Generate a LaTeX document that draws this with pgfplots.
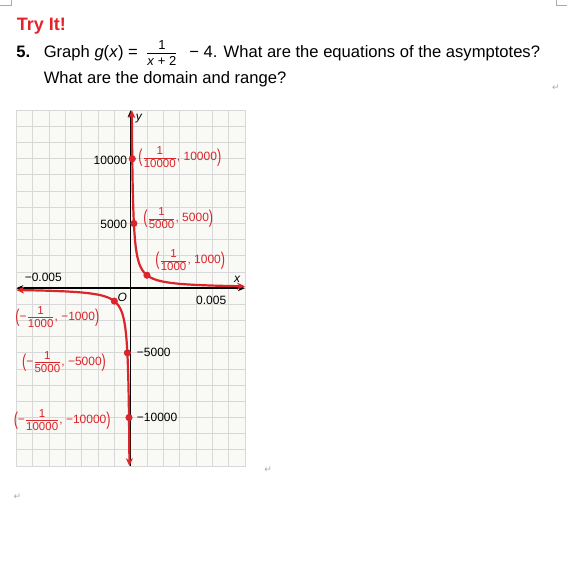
\documentclass[border=0pt]{standalone}
\usepackage{fontspec}
\setmainfont{Liberation Sans}
\newfontfamily\symfont{DejaVu Sans}
\usepackage{graphicx}
\usepackage{pgfplots}
\pgfplotsset{compat=1.18}
\usetikzlibrary{arrows.meta}
\definecolor{tryred}{RGB}{226,35,42}
\definecolor{cred}{RGB}{218,37,42}
\definecolor{gridc}{RGB}{216,216,216}
\definecolor{bgc}{RGB}{249,249,246}
\definecolor{markc}{RGB}{170,170,170}
\newcommand{\fr}[1]{\frac{\mbox{\fontsize{11.5}{11.5}\selectfont\rule[-2.5pt]{0pt}{0pt}1}}{\mbox{\fontsize{11.5}{11.5}\selectfont\rule{0pt}{9.2pt}#1}}}
\newcommand{\pl}{\vcenter{\hbox{\scalebox{1.05}[1.55]{(}}}}
\newcommand{\pr}{\vcenter{\hbox{\scalebox{1.05}[1.55]{)}}}}
\newcommand{\lab}[2]{$\pl#1\mbox{, #2}\pr$}
\newcommand{\mn}{\mbox{−}}
\begin{document}
\begin{tikzpicture}
\path[fill=white] (0,0) rectangle (567pt,-584pt);
\draw[markc, line width=0.6pt] (0,-5pt) -- (11pt,-5pt) -- (11pt,0);
\draw[markc, line width=0.6pt] (567pt,-5pt) -- (556pt,-5pt) -- (556pt,0);

\node[anchor=base west, inner sep=0, text=tryred, font=\fontsize{18}{20}\selectfont\bfseries] at (16.5pt,-30.7pt) {Try It!};
\node[anchor=base west, inner sep=0, font=\fontsize{16.6}{20}\selectfont\bfseries] at (16pt,-57.5pt) {5.};
\node[anchor=base west, inner sep=0, font=\fontsize{16.6}{20}\selectfont] at (43.3pt,-57.5pt) {Graph \textit{g}(\textit{x}) =};
\node[anchor=base, inner sep=0, font=\fontsize{16.6}{20}\selectfont] at (161.7pt,-57.5pt) {$\frac{\mbox{\fontsize{13}{13}\selectfont\rule[-3.5pt]{0pt}{0pt}1}}{\mbox{\fontsize{13}{13}\selectfont\rule{0pt}{11.2pt}\textit{x} + 2}}$};
\node[anchor=base west, inner sep=0, font=\fontsize{16.6}{20}\selectfont] at (189pt,-57.5pt) {− 4. What are the equations of the asymptotes?};
\node[anchor=base west, inner sep=0, font=\fontsize{16.6}{20}\selectfont] at (43.3pt,-83.3pt) {What are the domain and range?};

\begin{axis}[at={(16pt,-466pt)}, anchor=south west, scale only axis,
  width=228.8pt, height=356pt,
  xmin=-0.007, xmax=0.007, ymin=-13750, ymax=13750,
  scaled ticks=false,
  axis lines=middle,
  axis line style={line width=1.4pt, black},
  x axis line style={{Stealth[length=7pt,width=6pt]}-{Stealth[length=7pt,width=6pt]}},
  y axis line style={-{Stealth[length=7pt,width=6pt]}},
  xtick={-0.007,-0.006,-0.005,-0.004,-0.003,-0.002,-0.001,0,0.001,0.002,0.003,0.004,0.005,0.006,0.007},
  ytick={-13750,-12500,-11250,-10000,-8750,-7500,-6250,-5000,-3750,-2500,-1250,0,1250,2500,3750,5000,6250,7500,8750,10000,11250,12500,13750},
  xticklabels={}, yticklabels={}, major tick length=0pt,
  tick style={draw=none},
  grid=major, grid style={gridc, line width=0.9pt},
  axis background/.style={fill=bgc, draw=gridc, line width=0.9pt},
  clip=false]
\addplot[cred, line width=2.2pt, {Stealth[length=8pt,width=7pt]}-{Stealth[length=8pt,width=7pt]}] coordinates {
(0.0000727,13755) (0.00008,12500) (0.00009,11111) (0.0001,10000) (0.00011,9091) (0.000125,8000) (0.00014,7143) (0.00016,6250) (0.00018,5556) (0.0002,5000) (0.000225,4444) (0.00025,4000) (0.000275,3636) (0.0003,3333) (0.00033,3030) (0.00036,2778) (0.0004,2500) (0.00045,2222) (0.0005,2000) (0.00055,1818) (0.0006,1667) (0.0007,1429) (0.0008,1250) (0.0009,1111) (0.001,1000) (0.0012,833) (0.0014,714) (0.0016,625) (0.0018,556) (0.002,500) (0.0025,400) (0.003,333) (0.0035,286) (0.004,250) (0.005,200) (0.006,167) (0.007,143)};
\addplot[cred, line width=2.2pt, {Stealth[length=8pt,width=7pt]}-{Stealth[length=8pt,width=7pt]}] coordinates {
(-0.007,-143) (-0.006,-167) (-0.005,-200) (-0.004,-250) (-0.0035,-286) (-0.003,-333) (-0.0025,-400) (-0.002,-500) (-0.0018,-556) (-0.0016,-625) (-0.0014,-714) (-0.0012,-833) (-0.001,-1000) (-0.0009,-1111) (-0.0008,-1250) (-0.0007,-1429) (-0.0006,-1667) (-0.00055,-1818) (-0.0005,-2000) (-0.00045,-2222) (-0.0004,-2500) (-0.00036,-2778) (-0.00033,-3030) (-0.0003,-3333) (-0.000275,-3636) (-0.00025,-4000) (-0.000225,-4444) (-0.0002,-5000) (-0.00018,-5556) (-0.00016,-6250) (-0.00014,-7143) (-0.000125,-8000) (-0.00011,-9091) (-0.0001,-10000) (-0.00009,-11111) (-0.00008,-12500) (-0.0000727,-13755)};
\addplot[only marks, mark=*, mark size=3.3pt, cred] coordinates {(0.0001,10000) (0.0002,5000) (0.001,1000) (-0.001,-1000) (-0.0002,-5000) (-0.0001,-10000)};
\end{axis}

\begin{scope}[every node/.style={inner sep=0pt, font=\fontsize{12}{14}\selectfont}]
\node[anchor=east] at (127pt,-160pt) {10000};
\node[anchor=east] at (127pt,-224pt) {5000};
\node[anchor=west] at (136.5pt,-352pt) {−5000};
\node[anchor=west] at (136.5pt,-417pt) {−10000};
\node at (43pt,-277pt) {−0.005};
\node at (211pt,-300pt) {0.005};
\node at (139pt,-118pt) {\textit{y}};
\node at (237pt,-279pt) {\textit{x}};
\node at (122pt,-297pt) {\textit{O}};
\end{scope}

\begin{scope}[every node/.style={inner sep=0pt, anchor=west, text=cred, font=\fontsize{12}{14}\selectfont}]
\node at (138pt,-157pt) {\lab{\fr{10000}}{10000}};
\node at (143pt,-218pt) {\lab{\fr{5000}}{5000}};
\node at (155pt,-260pt) {\lab{\fr{1000}}{1000}};
\node at (15pt,-317pt) {\lab{\mn\fr{1000}}{−1000}};
\node at (21.7pt,-362pt) {\lab{\mn\fr{5000}}{−5000}};
\node at (13.3pt,-420pt) {\lab{\mn\fr{10000}}{−10000}};
\end{scope}

\begin{scope}[every node/.style={inner sep=0pt, text=markc, font=\symfont\fontsize{9}{9}\selectfont}]
\node at (556pt,-87pt) {↵};
\node at (268pt,-470pt) {↵};
\node at (17pt,-497pt) {↵};
\end{scope}
\end{tikzpicture}
\end{document}
